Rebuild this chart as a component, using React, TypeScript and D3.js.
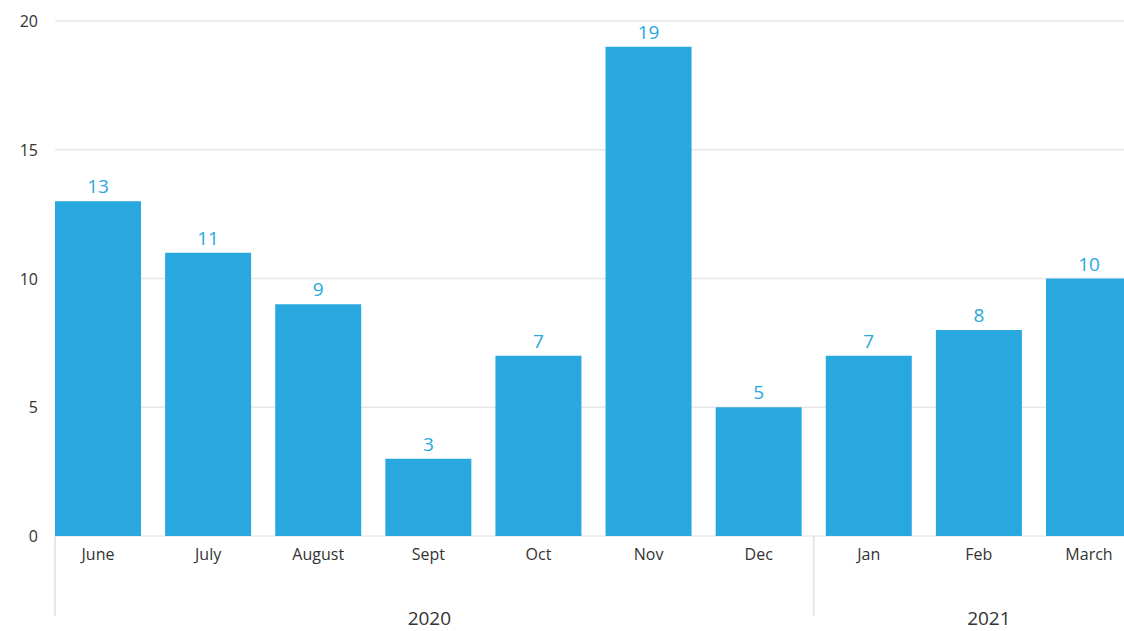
import React from "react";
import * as d3 from "d3";

const months = ["June", "July", "August", "Sept", "Oct", "Nov", "Dec", "Jan", "Feb", "March"];
const values = [13, 11, 9, 3, 7, 19, 5, 7, 8, 10];
const years = [
  { label: "2020", start: 0, end: 7 },
  { label: "2021", start: 7, end: 10 },
];
const yTicks = [0, 5, 10, 15, 20];

const W = 1124;
const H = 631;
const left = 55;
const FONT = "'Open Sans', Lato, sans-serif";
const BLUE = "#29a8e0";

export default function App() {
  const x = d3.scaleBand<string>().domain(months).range([left, 1132]).paddingInner(0.219).paddingOuter(0);
  const y = d3.scaleLinear().domain([0, 20]).range([536, 21]);
  const step = x.step();
  const gap = step - x.bandwidth();
  const groupX = (i: number) => (i === 0 ? left : left + i * step - gap / 2);
  const groupEnd = (i: number) => (i >= months.length ? left + i * step - gap / 2 + 20 : groupX(i) - 10);

  return (
    <svg width={W} height={H} style={{ position: "absolute", left: 0, top: 0, background: "#fff" }}>
      {yTicks.map((t) => (
        <g key={t}>
          {t > 0 && <line x1={left} x2={W} y1={y(t)} y2={y(t)} stroke="#e8e8e8" strokeWidth={1.5} />}
          <text x={38} y={y(t) + 6} textAnchor="end" fontFamily={FONT} fontSize={16} fill="#333">{t}</text>
        </g>
      ))}
      <line x1={left} x2={W} y1={y(0)} y2={y(0)} stroke="#e0e0e0" strokeWidth={1} />
      {months.map((m, i) => (
        <g key={m}>
          <rect x={x(m)} y={y(values[i])} width={x.bandwidth()} height={y(0) - y(values[i])} fill={BLUE} />
          <text x={(x(m) as number) + x.bandwidth() / 2} y={y(values[i]) - 8} textAnchor="middle" fontFamily={FONT} fontSize={19} fill={BLUE}>{values[i]}</text>
          <text x={(x(m) as number) + x.bandwidth() / 2} y={560} textAnchor="middle" fontFamily={FONT} fontSize={16} fill="#333">{m}</text>
        </g>
      ))}
      {years.map((g) => {
        const x0 = groupX(g.start);
        const x1 = groupEnd(g.end);
        return (
          <g key={g.label}>
            <line x1={x0} x2={x0} y1={y(0)} y2={616} stroke="#e0e0e0" strokeWidth={1.5} />
            <text x={(x0 + x1) / 2} y={625} textAnchor="middle" fontFamily={FONT} fontSize={19} fill="#333">{g.label}</text>
          </g>
        );
      })}
    </svg>
  );
}
